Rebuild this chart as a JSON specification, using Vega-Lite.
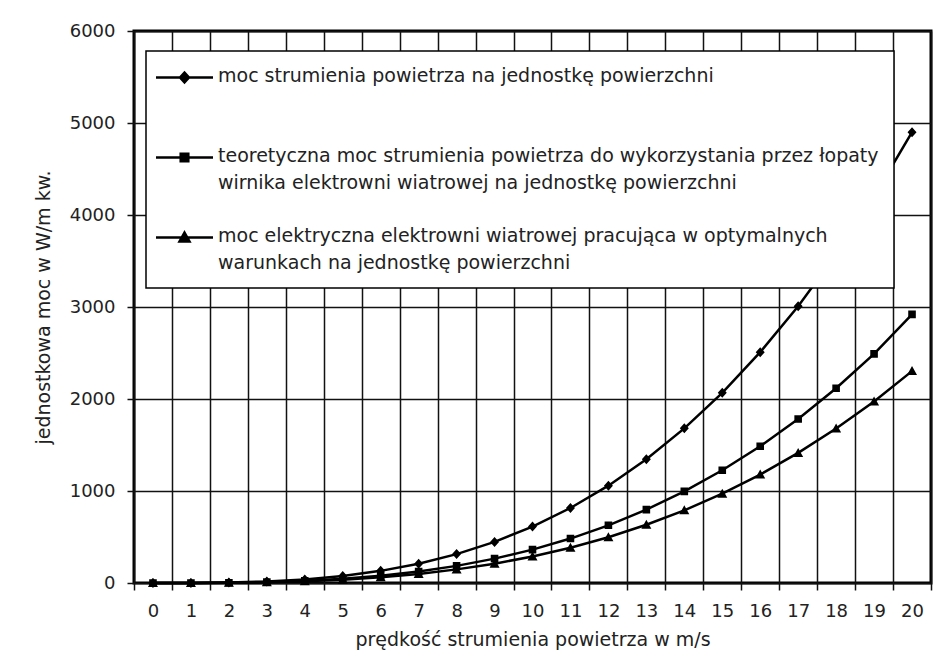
{
  "$schema": "https://vega.github.io/schema/vega-lite/v6.json",
  "width": 797,
  "height": 552,
  "autosize": {"type": "none"},
  "padding": {"left": 134, "top": 31, "right": 17, "bottom": 85},
  "background": "white",
  "config": {
    "font": "DejaVu Sans",
    "view": {"stroke": "black", "strokeWidth": 3},
    "axis": {
      "labelFont": "DejaVu Sans",
      "titleFont": "DejaVu Sans",
      "labelColor": "#222",
      "titleColor": "#222",
      "titleFontWeight": "normal",
      "gridColor": "#111",
      "gridOpacity": 1,
      "gridWidth": 1.5,
      "tickColor": "#111",
      "tickWidth": 1.5,
      "tickSize": 7,
      "domain": false
    }
  },
  "data": {
    "values": [
      {"v": 0, "s": "P", "p": 0}, {"v": 1, "s": "P", "p": 0.6}, {"v": 2, "s": "P", "p": 4.9},
      {"v": 3, "s": "P", "p": 16.5}, {"v": 4, "s": "P", "p": 39}, {"v": 5, "s": "P", "p": 77},
      {"v": 6, "s": "P", "p": 132}, {"v": 7, "s": "P", "p": 210}, {"v": 8, "s": "P", "p": 314},
      {"v": 9, "s": "P", "p": 447}, {"v": 10, "s": "P", "p": 613}, {"v": 11, "s": "P", "p": 815},
      {"v": 12, "s": "P", "p": 1058}, {"v": 13, "s": "P", "p": 1346}, {"v": 14, "s": "P", "p": 1681},
      {"v": 15, "s": "P", "p": 2067}, {"v": 16, "s": "P", "p": 2509}, {"v": 17, "s": "P", "p": 3009},
      {"v": 18, "s": "P", "p": 3572}, {"v": 19, "s": "P", "p": 4201}, {"v": 20, "s": "P", "p": 4900},
      {"v": 0, "s": "Pt", "p": 0}, {"v": 1, "s": "Pt", "p": 0.4}, {"v": 2, "s": "Pt", "p": 2.9},
      {"v": 3, "s": "Pt", "p": 9.8}, {"v": 4, "s": "Pt", "p": 23}, {"v": 5, "s": "Pt", "p": 45},
      {"v": 6, "s": "Pt", "p": 78}, {"v": 7, "s": "Pt", "p": 124}, {"v": 8, "s": "Pt", "p": 186},
      {"v": 9, "s": "Pt", "p": 265}, {"v": 10, "s": "Pt", "p": 363}, {"v": 11, "s": "Pt", "p": 483},
      {"v": 12, "s": "Pt", "p": 627}, {"v": 13, "s": "Pt", "p": 798}, {"v": 14, "s": "Pt", "p": 996},
      {"v": 15, "s": "Pt", "p": 1225}, {"v": 16, "s": "Pt", "p": 1487}, {"v": 17, "s": "Pt", "p": 1783},
      {"v": 18, "s": "Pt", "p": 2117}, {"v": 19, "s": "Pt", "p": 2490}, {"v": 20, "s": "Pt", "p": 2920},
      {"v": 0, "s": "Pe", "p": 0}, {"v": 1, "s": "Pe", "p": 0.3}, {"v": 2, "s": "Pe", "p": 2.3},
      {"v": 3, "s": "Pe", "p": 7.8}, {"v": 4, "s": "Pe", "p": 18}, {"v": 5, "s": "Pe", "p": 36},
      {"v": 6, "s": "Pe", "p": 62}, {"v": 7, "s": "Pe", "p": 99}, {"v": 8, "s": "Pe", "p": 148},
      {"v": 9, "s": "Pe", "p": 210}, {"v": 10, "s": "Pe", "p": 288}, {"v": 11, "s": "Pe", "p": 383},
      {"v": 12, "s": "Pe", "p": 497}, {"v": 13, "s": "Pe", "p": 633}, {"v": 14, "s": "Pe", "p": 790},
      {"v": 15, "s": "Pe", "p": 971}, {"v": 16, "s": "Pe", "p": 1179}, {"v": 17, "s": "Pe", "p": 1414},
      {"v": 18, "s": "Pe", "p": 1679}, {"v": 19, "s": "Pe", "p": 1974}, {"v": 20, "s": "Pe", "p": 2303}
    ]
  },
  "encoding": {
    "x": {
      "field": "v",
      "type": "ordinal",
      "scale": {"type": "band", "paddingInner": 0, "paddingOuter": 0},
      "axis": {
        "title": "prędkość strumienia powietrza w m/s",
        "labelAngle": 0,
        "tickBand": "extent",
        "labelFontSize": 18,
        "labelPadding": 12,
        "titleFontSize": 19,
        "titlePadding": 10,
        "grid": true
      }
    },
    "y": {
      "field": "p",
      "type": "quantitative",
      "scale": {"domain": [0, 6000], "nice": false},
      "axis": {
        "title": "jednostkowa moc w W/m kw.",
        "values": [0, 1000, 2000, 3000, 4000, 5000, 6000],
        "format": "d",
        "labelFontSize": 18,
        "labelPadding": 12,
        "titleFontSize": 19,
        "titlePadding": 16,
        "grid": true
      }
    }
  },
  "layer": [
    {
      "mark": {"type": "line", "color": "black", "strokeWidth": 2.5},
      "encoding": {"detail": {"field": "s"}}
    },
    {
      "mark": {"type": "point", "filled": true, "color": "black", "opacity": 1, "size": 400},
      "encoding": {
        "shape": {
          "field": "s",
          "type": "nominal",
          "scale": {
            "domain": ["P", "Pt", "Pe"],
            "range": [
              "M-2.85,0H2.85M0,-0.5L0.45,0L0,0.5L-0.45,0Z",
              "M-2.85,0H2.85M-0.38,-0.38H0.38V0.38H-0.38Z",
              "M-2.85,0H2.85M0,-0.5L0.5,0.4H-0.5Z"
            ]
          },
          "legend": {
            "title": null,
            "orient": "none",
            "legendX": 12,
            "legendY": 20,
            "direction": "vertical",
            "fillColor": "white",
            "strokeColor": "black",
            "padding": 15,
            "gridAlign": "all",
            "symbolSize": 400,
            "symbolOffset": 12,
            "labelFont": "DejaVu Sans",
            "labelFontSize": 19,
            "labelColor": "#222",
            "labelLimit": 900,
            "labelOffset": 22,
            "labelBaseline": "top",
            "rowPadding": 33,
            "labelExpr": "datum.value === 'P' ? 'moc strumienia powietrza na jednostkę powierzchni' : datum.value === 'Pt' ? ['teoretyczna moc strumienia powietrza do wykorzystania przez łopaty', 'wirnika  elektrowni wiatrowej na jednostkę powierzchni'] : ['moc elektryczna elektrowni wiatrowej pracująca w optymalnych', 'warunkach na jednostkę powierzchni']",
            "encoding": {
              "legend": {"strokeWidth": {"value": 1.5}},
              "symbols": {
                "fill": {"value": "black"},
                "stroke": {"value": "black"},
                "strokeWidth": {"value": 2.5},
                "opacity": {"value": 1}
              },
              "labels": {
                "dy": {"value": -11},
                "lineHeight": {"value": 27}
              }
            }
          }
        }
      }
    }
  ]
}
